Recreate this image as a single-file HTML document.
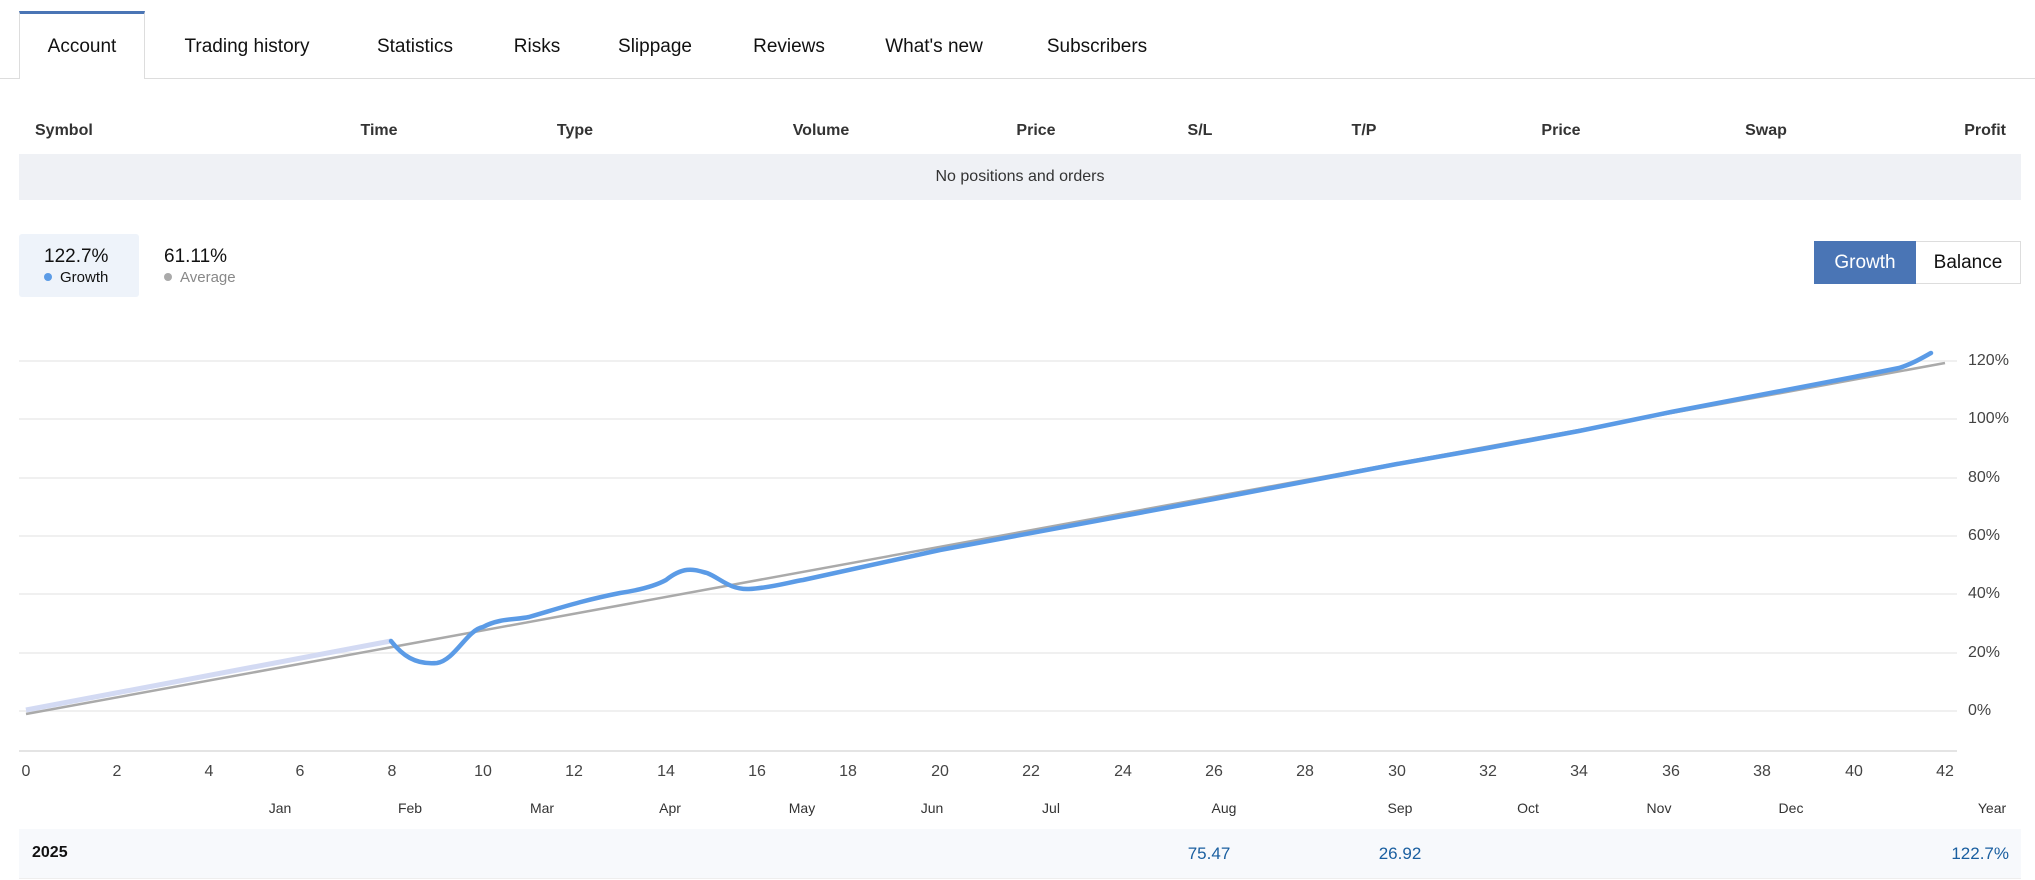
<!DOCTYPE html>
<html><head><meta charset="utf-8"><style>
*{margin:0;padding:0;box-sizing:border-box}
body{width:2035px;height:880px;background:#fff;font-family:"Liberation Sans","DejaVu Sans",sans-serif;color:#222;position:relative;overflow:hidden}
.a{position:absolute;white-space:nowrap}
.tab{position:absolute;top:47px;transform:translate(-50%,-50%);font-size:19px;color:#111}
.th{position:absolute;top:131px;transform:translateY(-50%);font-size:16px;font-weight:bold;color:#333}
.yl{position:absolute;left:1968px;font-size:16px;color:#444;transform:translateY(-50%)}
.xl{position:absolute;top:772px;font-size:16px;color:#444;transform:translate(-50%,-50%)}
.ml{position:absolute;top:808px;font-size:14px;color:#333;transform:translate(-50%,-50%)}
</style></head><body>
<div class="a" style="left:0;top:78px;width:2035px;height:1px;background:#ddd"></div>
<div class="a" style="left:19px;top:11px;width:126px;height:68px;background:#fff;border:1px solid #ddd;border-bottom:none;border-top:3px solid #4a75b5"></div>
<div class="tab" style="left:82px">Account</div>
<div class="tab" style="left:247px">Trading history</div>
<div class="tab" style="left:415px">Statistics</div>
<div class="tab" style="left:537px">Risks</div>
<div class="tab" style="left:655px">Slippage</div>
<div class="tab" style="left:789px">Reviews</div>
<div class="tab" style="left:934px">What's new</div>
<div class="tab" style="left:1097px">Subscribers</div>

<div class="th" style="left:35px">Symbol</div>
<div class="th" style="left:379px;transform:translate(-50%,-50%)">Time</div>
<div class="th" style="left:575px;transform:translate(-50%,-50%)">Type</div>
<div class="th" style="left:821px;transform:translate(-50%,-50%)">Volume</div>
<div class="th" style="left:1036px;transform:translate(-50%,-50%)">Price</div>
<div class="th" style="left:1200px;transform:translate(-50%,-50%)">S/L</div>
<div class="th" style="left:1364px;transform:translate(-50%,-50%)">T/P</div>
<div class="th" style="left:1561px;transform:translate(-50%,-50%)">Price</div>
<div class="th" style="left:1766px;transform:translate(-50%,-50%)">Swap</div>
<div class="th" style="right:29px">Profit</div>
<div class="a" style="left:19px;top:154px;width:2002px;height:46px;background:#eff1f5;font-size:16px;color:#333;text-align:center;line-height:46px">No positions and orders</div>

<div class="a" style="left:19px;top:234px;width:120px;height:63px;background:#eef3fa;border-radius:3px"></div>
<div class="a" style="left:44px;top:246px;font-size:19px;color:#111">122.7%</div>
<div class="a" style="left:44px;top:269px;font-size:15px;color:#111"><span style="display:inline-block;width:8px;height:8px;border-radius:50%;background:#5b9be6;margin-right:8px;vertical-align:1px"></span>Growth</div>
<div class="a" style="left:164px;top:246px;font-size:19px;color:#111">61.11%</div>
<div class="a" style="left:164px;top:269px;font-size:15px;color:#888"><span style="display:inline-block;width:8px;height:8px;border-radius:50%;background:#aaa;margin-right:8px;vertical-align:1px"></span>Average</div>

<div class="a" style="left:1814px;top:241px;width:102px;height:43px;background:#4a75b5;color:#fff;font-size:19px;text-align:center;line-height:43px">Growth</div>
<div class="a" style="left:1916px;top:241px;width:105px;height:43px;border:1px solid #ddd;border-left:none;color:#111;font-size:19px;text-align:center;line-height:41px">Balance</div>

<svg class="a" style="left:0;top:0" width="2035" height="880">
<g stroke="#ececec" stroke-width="1.5">
<line x1="19" x2="1957" y1="361" y2="361"/><line x1="19" x2="1957" y1="419" y2="419"/>
<line x1="19" x2="1957" y1="478" y2="478"/><line x1="19" x2="1957" y1="536" y2="536"/>
<line x1="19" x2="1957" y1="594" y2="594"/><line x1="19" x2="1957" y1="653" y2="653"/>
<line x1="19" x2="1957" y1="711" y2="711"/><line x1="19" x2="1957" y1="751" y2="751" stroke="#e4e4e4" stroke-width="2"/>
</g>
<line x1="26" y1="710" x2="391" y2="641" stroke="#d3daf3" stroke-width="5"/>
<line x1="26" y1="714" x2="1945" y2="363" stroke="#aaa" stroke-width="2.5"/>
<path d="M391,641 C402,655 415,665 437,663 C455,660 467,630 483,627 C500,618 515,620 529,617 C560,608 580,601 620,593 C640,590 655,586 666,580 C685,565 695,570 707,573 C720,578 730,590 749,589 C770,588 790,582 803,580 L940,550 L1214,499 L1397,464 L1488,448 L1579,431 L1671,412 L1854,377 L1899,368 C1912,364 1922,358 1931,353" fill="none" stroke="#5b9be6" stroke-width="4.5" stroke-linejoin="round" stroke-linecap="round"/>
</svg>

<div class="yl" style="top:361px">120%</div><div class="yl" style="top:419px">100%</div>
<div class="yl" style="top:478px">80%</div><div class="yl" style="top:536px">60%</div>
<div class="yl" style="top:594px">40%</div><div class="yl" style="top:653px">20%</div>
<div class="yl" style="top:711px">0%</div>

<div class="xl" style="left:26px">0</div><div class="xl" style="left:117px">2</div>
<div class="xl" style="left:209px">4</div><div class="xl" style="left:300px">6</div>
<div class="xl" style="left:392px">8</div><div class="xl" style="left:483px">10</div>
<div class="xl" style="left:574px">12</div><div class="xl" style="left:666px">14</div>
<div class="xl" style="left:757px">16</div><div class="xl" style="left:848px">18</div>
<div class="xl" style="left:940px">20</div><div class="xl" style="left:1031px">22</div>
<div class="xl" style="left:1123px">24</div><div class="xl" style="left:1214px">26</div>
<div class="xl" style="left:1305px">28</div><div class="xl" style="left:1397px">30</div>
<div class="xl" style="left:1488px">32</div><div class="xl" style="left:1579px">34</div>
<div class="xl" style="left:1671px">36</div><div class="xl" style="left:1762px">38</div>
<div class="xl" style="left:1854px">40</div><div class="xl" style="left:1945px">42</div>

<div class="ml" style="left:280px">Jan</div><div class="ml" style="left:410px">Feb</div>
<div class="ml" style="left:542px">Mar</div><div class="ml" style="left:670px">Apr</div>
<div class="ml" style="left:802px">May</div><div class="ml" style="left:932px">Jun</div>
<div class="ml" style="left:1051px">Jul</div><div class="ml" style="left:1224px">Aug</div>
<div class="ml" style="left:1400px">Sep</div><div class="ml" style="left:1528px">Oct</div>
<div class="ml" style="left:1659px">Nov</div><div class="ml" style="left:1791px">Dec</div>
<div class="ml" style="left:1992px">Year</div>

<div class="a" style="left:19px;top:829px;width:2002px;height:50px;background:#f7f9fc;border-bottom:1px solid #eee"></div>
<div class="a" style="left:32px;top:844px;font-size:16px;font-weight:bold;color:#111">2025</div>
<div class="a" style="left:1209px;top:844px;font-size:17px;color:#1a5fa0;transform:translateX(-50%)">75.47</div>
<div class="a" style="left:1400px;top:844px;font-size:17px;color:#1a5fa0;transform:translateX(-50%)">26.92</div>
<div class="a" style="right:26px;top:844px;font-size:17px;color:#1a5fa0">122.7%</div>
</body></html>
